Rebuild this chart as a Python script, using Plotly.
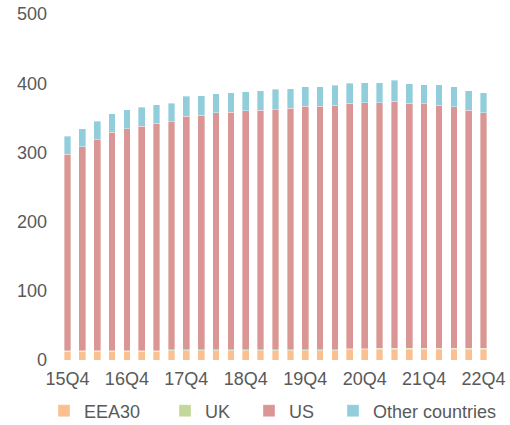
import plotly.graph_objects as go

quarters = ["15Q4",
            "16Q1", "16Q2", "16Q3", "16Q4",
            "17Q1", "17Q2", "17Q3", "17Q4",
            "18Q1", "18Q2", "18Q3", "18Q4",
            "19Q1", "19Q2", "19Q3", "19Q4",
            "20Q1", "20Q2", "20Q3", "20Q4",
            "21Q1", "21Q2", "21Q3", "21Q4",
            "22Q1", "22Q2", "22Q3", "22Q4"]

eea30 = [13, 13, 13, 13, 13, 13, 13, 13.5, 13.5, 13.5, 13.5, 13.5, 13.5, 13.5, 13.5,
         13.5, 13.5, 13.5, 13.5, 14.5, 14.5, 15, 15, 15, 15, 15, 15, 15, 15]
uk = [0.5, 0.5, 0.5, 0.5, 0.5, 0.5, 0.5, 1, 1, 1, 1, 1, 1, 1, 1, 1, 1, 1, 1,
      1.5, 1.5, 2, 2, 2, 2, 2, 2, 2, 2]
us = [283.5, 294.5, 304.5, 315.5, 320.5, 324.5, 328.5, 329.5, 337.5, 339.5, 342.5, 343.5,
      345.5, 346.5, 347.5, 349.5, 352.5, 352.5, 353.5, 355, 356, 355, 357, 354, 353, 351,
      349, 344, 340]
other = [26, 26, 27, 27, 28, 27, 27, 27, 29, 28, 28, 28, 28, 28, 29, 28, 28, 28, 29,
         29, 29, 29, 30, 28, 28, 30, 29, 28, 29]

tick_labels = ["15Q4", "16Q4", "17Q4", "18Q4", "19Q4", "20Q4", "21Q4", "22Q4"]
y_ticks = [0, 100, 200, 300, 400, 500]

series_names = ["EEA30", "UK", "US", "Other countries"]
series_values = [eea30, uk, us, other]
series_colors = ["#FAC090", "#C4D79B", "#DA9694", "#92CDDC"]
legend_ids = ["legend", "legend2", "legend3", "legend4"]
legend_x_px = [44, 165, 249, 333]   # left edge of each legend entry (px)

W, H = 510, 425
font_color = "#595959"

fig = go.Figure()
for name, vals, col, lid in zip(series_names, series_values, series_colors, legend_ids):
    fig.add_trace(go.Bar(
        x=quarters, y=vals, name=name, legend=lid,
        marker=dict(color=col, line=dict(color="rgba(255,255,255,0.6)", width=0.6)),
    ))

legend_common = dict(orientation="h", xref="container", yref="container",
                     xanchor="left", yanchor="middle", y=(H - 411) / H,
                     font=dict(size=18, color=font_color), itemwidth=30,
                     bgcolor="rgba(0,0,0,0)")
legends = {}
for lid, xp in zip(legend_ids, legend_x_px):
    legends[lid] = dict(legend_common, x=xp / W)

fig.update_layout(
    width=W, height=H,
    barmode="stack", bargap=0.55,
    margin=dict(l=60, r=19, t=14, b=65, autoexpand=False),
    paper_bgcolor="white", plot_bgcolor="white",
    font=dict(family="Liberation Sans, Arial, sans-serif", size=18, color=font_color),
    showlegend=True,
    xaxis=dict(type="category", tickmode="array", tickvals=tick_labels, ticktext=tick_labels,
               showgrid=False, showline=False, zeroline=False, ticks="", automargin=False,
               tickfont=dict(size=18, color=font_color), ticklabelstandoff=6),
    yaxis=dict(range=[0, 500], tickmode="array", tickvals=y_ticks, automargin=False,
               showgrid=False, showline=False, zeroline=False, ticks="",
               tickfont=dict(size=18, color=font_color), ticklabelstandoff=12),
    **legends,
)

fig.write_html("out.html",
               config={"displayModeBar": False},
               post_script="document.body.style.margin='0';document.body.style.overflow='hidden';")
